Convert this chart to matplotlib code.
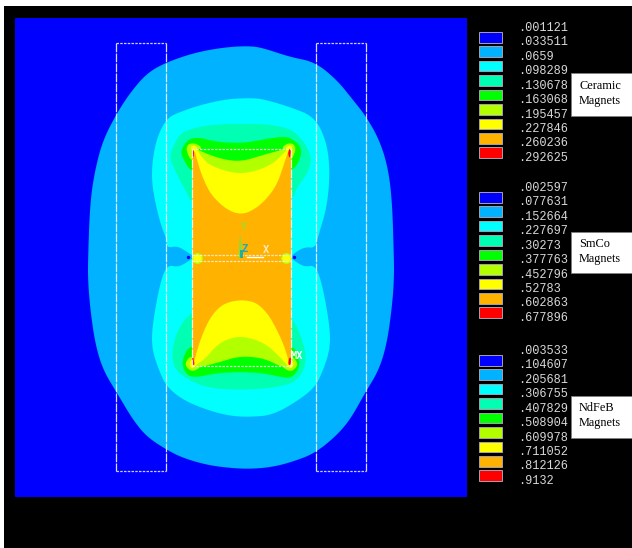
import matplotlib
matplotlib.use("Agg")
import matplotlib.pyplot as plt
from matplotlib.patches import Rectangle

W, H = 632, 548

BLUE = "#0000ff"
LBLUE = "#00b2ff"
CYAN = "#00ffff"
AQUA = "#00ffb2"
GREEN = "#00ff00"
LIME = "#b2ff00"
YELLOW = "#ffff00"
ORANGE = "#ffb200"
RED = "#ff0000"
band_colors = [BLUE, LBLUE, CYAN, AQUA, GREEN, LIME, YELLOW, ORANGE, RED]

# contour outlines
outer = [(250,46),(227,47),(197,52),(167,62),(147,73),(130,93),(117,113),(103,140),(95,170),(90,203),(88,260),
         (88,280),(90,307),(95,343),(103,370),(117,393),(133,420),(147,437),(167,450),(183,458),(207,465),(230,468),
         (250,469),(273,467),(295,461),(315,453),(335,437),(350,420),(365,393),(379,370),(387,343),(392,307),(394,280),
         (394,260),(392,197),(387,163),(378,137),(365,115),(353,100),(337,80),(315,62),(290,57),(263,48)]
cyan_top = [(250,98),(227,99),(200,105),(180,112),(167,118),(157,137),(152,163),(152,187),(160,223),(167,240),(167,248),
            (177,246),(186,251),(194,257),(290,257),(296,252),(305,247),(315,248),(318,237),(327,207),(330,173),(327,143),
            (315,117),(290,107),(263,99)]
cyan_bot = [(194,257),(186,263),(178,267),(167,265),(160,283),(152,327),(152,350),(160,373),(167,387),(183,400),(207,410),
            (230,416),(250,417),(273,415),(299,400),(315,387),(322,373),(330,350),(330,327),(322,283),(315,265),(305,267),
            (296,262),(290,257)]
aqua_top = [(250,124),(220,124),(197,127),(180,133),(173,147),(169,157),(178,177),(187,193),(191,203),(240,210),(291,203),
            (297,187),(308,173),(312,157),(303,140),(290,128),(263,124)]
aqua_bot = [(210,300),(191,313),(180,325),(172,347),(173,367),(185,378),(207,388),(240,390),(273,388),(297,382),(307,363),
            (303,340),(291,315),(270,300)]
green_top = [(237,143),(217,142),(197,137),(187,140),(180,152),(185,162),(191,172),(240,180),(292,172),(300,160),(302,147),
             (290,137),(277,137),(250,142)]
green_bot = [(240,340),(191,345),(185,353),(182,363),(185,373),(193,378),(217,373),(240,372),(263,373),(285,378),(293,377),
             (300,367),(298,353),(291,345)]

# arcs inside the magnet, closed along its top / bottom edge
yellow_arc_top = [(194,149),(196,156),(200,170),(205,183),(212,196),(227,210),(242,215),(257,208),(270,195),(278,182),(283,167),(287,155),(289,149)]
lime_arc_top = [(197,149),(201,156),(208,164),(222,170),(240,174),(260,170),(275,162),(283,154),(288,149)]
green_arc_top = [(196,149),(217,158),(240,162),(263,155),(285,149)]
yellow_arc_bot = [(193,366),(198,347),(203,333),(210,318),(220,306),(232,301),(245,300),(257,303),(268,314),(276,328),(283,343),(287,355),(290,366)]
lime_arc_bot = [(195,366),(207,357),(215,347),(225,340),(240,336),(257,340),(268,346),(278,355),(288,366)]
green_arc_bot = [(205,366),(220,362),(240,356),(263,358),(280,366)]

# hot spots at the four corners of the magnet
lime_spots = [[(186,150),(188,144),(195,143),(203,148),(194,157),(191,161)],
              [(296,150),(294,144),(288,143),(281,148),(288,157),(291,161)],
              [(185,363),(191,355),(197,364),(202,366),(193,372),(187,368)],
              [(298,363),(291,355),(286,364),(281,366),(290,372),(296,368)]]
yellow_spots = [[(190,148),(193,145),(198,148),(195,153)],
                [(293,148),(290,145),(285,148),(288,153)],
                [(189,364),(192,359),(196,365),(192,369)],
                [(294,364),(291,359),(287,365),(291,369)]]
red_spots = [[(192,150),(194,150),(194,156),(193,158)],
             [(291,149),(289,149),(288,154),(290,159)],
             [(192,357),(193,357),(195,365),(192,365)],
             [(291,357),(289,358),(288,365),(291,365)]]

# legends
ceramic_values = [".001121",".033511",".0659",".098289",".130678",".163068",".195457",".227846",".260236",".292625"]
smco_values = [".002597",".077631",".152664",".227697",".30273",".377763",".452796",".52783",".602863",".677896"]
ndfeb_values = [".003533",".104607",".205681",".306755",".407829",".508904",".609978",".711052",".812126",".9132"]
legend_tops = [28, 188, 351]
legend_values = [ceramic_values, smco_values, ndfeb_values]
box_names = ["Ceramic", "SmCo", "NdFeB"]
box_tops = [73, 232, 396]
box_bottoms = [116, 273, 438]
box_text_y = [86, 244, 408]

fig = plt.figure(figsize=(W / 100, H / 100), dpi=100, facecolor="white")
ax = fig.add_axes([0, 0, 1, 1])
ax.set_xlim(0, W)
ax.set_ylim(H, 0)
ax.axis("off")

ax.add_patch(Rectangle((4, 6), W - 4, H - 6, fc="black", ec="none"))
ax.add_patch(Rectangle((15, 18), 452, 479, fc=BLUE, ec="none"))


def chaikin(pts, closed=True, n=3):
    # round the outline off, contours are smooth in the original
    for _ in range(n):
        new = []
        seq = list(zip(pts, pts[1:] + pts[:1])) if closed else list(zip(pts[:-1], pts[1:]))
        for p, q in seq:
            new.append((0.75 * p[0] + 0.25 * q[0], 0.75 * p[1] + 0.25 * q[1]))
            new.append((0.25 * p[0] + 0.75 * q[0], 0.25 * p[1] + 0.75 * q[1]))
        if not closed:
            new = [pts[0]] + new + [pts[-1]]
        pts = new
    return pts


def poly(pts, color, closed=True):
    s = chaikin(pts, closed)
    ax.fill([p[0] for p in s], [p[1] for p in s], color=color, lw=0)


poly(outer, LBLUE)
poly(cyan_top, CYAN)
poly(cyan_bot, CYAN)
poly(aqua_top, AQUA)
poly(aqua_bot, AQUA)
poly(green_top, GREEN)
poly(green_bot, GREEN)
for s in lime_spots:
    poly(s, LIME)
for s in yellow_spots:
    poly(s, YELLOW)
ax.add_patch(Rectangle((191.5, 149), 99.5, 217, fc=ORANGE, ec="none"))
poly(yellow_arc_top, YELLOW, closed=False)
poly(lime_arc_top, LIME, closed=False)
poly(green_arc_top, GREEN, closed=False)
poly(yellow_arc_bot, YELLOW, closed=False)
poly(lime_arc_bot, LIME, closed=False)
poly(green_arc_bot, GREEN, closed=False)
for s in yellow_spots:
    poly(s, YELLOW)
for s in red_spots:
    poly(s, RED)

# mid-plane blobs at the air gap
ax.scatter([197, 286], [257.5, 257.5], s=63, c=LIME, linewidths=0, zorder=3)
ax.scatter([197, 286], [257.5, 257.5], s=36, c=YELLOW, linewidths=0, zorder=3)
ax.scatter([188, 294], [257, 257], s=6, c=BLUE, linewidths=0, zorder=3)

# element edges: near solid going up, dotted going across
across = dict(color="#f0f0e8", lw=0.9, ls=(0, (2, 1)), alpha=0.85, zorder=4)
upward = dict(color="#f4f4f0", lw=0.9, ls=(0, (7, 1)), alpha=0.9, zorder=4)
for x0, x1 in [(116, 166), (316, 365.5)]:
    ax.plot([x0, x1], [43, 43], **across)
    ax.plot([x0, x1], [471, 471], **across)
    ax.plot([x0, x0], [43, 471], **upward)
    ax.plot([x1, x1], [43, 471], **upward)
ax.plot([191.5, 291], [149, 149], **across)
ax.plot([191.5, 291], [365.5, 365.5], **across)
ax.plot([191.5, 291], [255, 255], **across)
ax.plot([191.5, 291], [260.5, 260.5], **across)
ax.plot([191.5, 191.5], [149, 366], **upward)
ax.plot([291, 291], [149, 366], **upward)

# triad
ax.fill([240, 238.5, 243], [233, 258, 258], color="#80e040", lw=0, zorder=5)
ax.fill([240, 240, 242.5, 242.5], [250, 258, 258, 250], color="#20b0a0", lw=0, zorder=5)
ax.plot([247, 263], [257, 257], color="white", lw=1, zorder=5)
tri = dict(fontsize=7.5, fontweight="bold", ha="center", va="center", family="DejaVu Sans Mono", zorder=6)
ax.text(244, 227, "Y", color="#a8d820", **tri)
ax.text(244, 249, "Z", color="#20a8b8", **tri)
ax.text(266, 250, "X", color="#ffe8c0", **tri)
ax.text(297, 356, "MX", color="white", **tri)

for top, values in zip(legend_tops, legend_values):
    for i, v in enumerate(values):
        ax.text(518, top + i * 14.43, v, color="#d8d8d8", fontsize=8.6, family="Liberation Mono",
                ha="left", va="center")
    for i, c in enumerate(band_colors):
        ax.add_patch(Rectangle((478.5, top + 4 + i * 14.43), 23, 10.5, fc=c, ec="#a8a0b0", lw=0.7))

for name, t, b, ty in zip(box_names, box_tops, box_bottoms, box_text_y):
    ax.add_patch(Rectangle((571, t), 61, b - t, fc="white", ec="#808080", lw=0.6))
    ax.text(579, ty, name, color="black", fontsize=8.8, family="Liberation Serif", ha="left", va="center")
    ax.text(579, ty + 15, "Magnets", color="black", fontsize=8.8, family="Liberation Serif", ha="left", va="center")

fig.savefig("out.png", dpi=100, facecolor=fig.get_facecolor())
